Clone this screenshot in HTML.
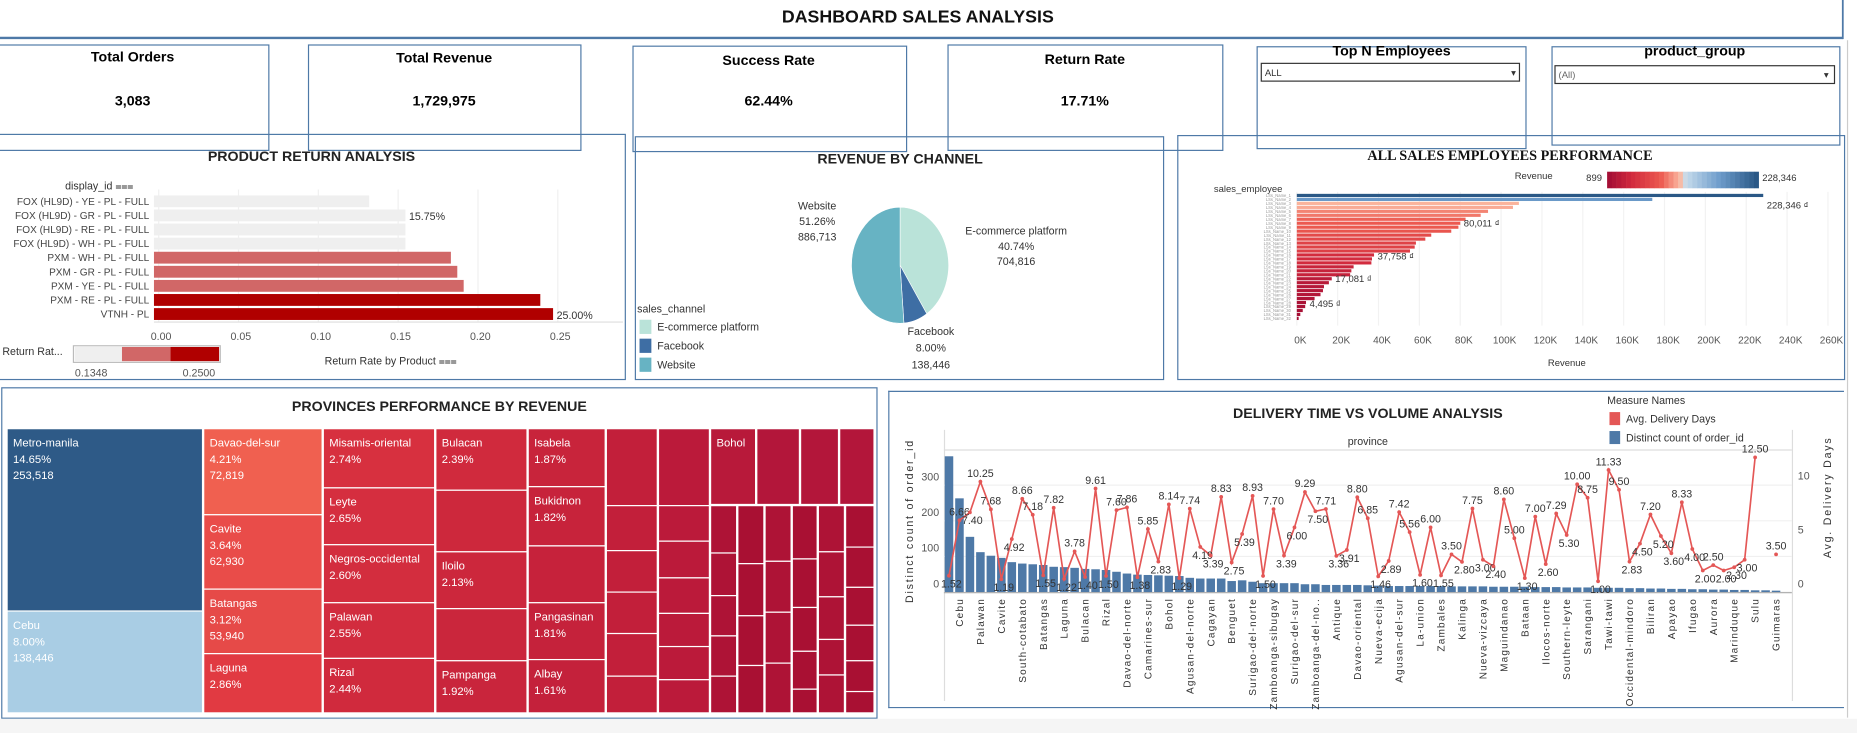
<!DOCTYPE html>
<html><head><meta charset="utf-8"><title>Dashboard Sales Analysis</title>
<style>
html,body{margin:0;padding:0;background:#fff;width:1857px;height:733px;overflow:hidden}
svg{display:block;font-family:"Liberation Sans",sans-serif}
</style></head>
<body>
<svg id="dash" width="1857" height="733" viewBox="0 0 1568 619" preserveAspectRatio="none" xmlns="http://www.w3.org/2000/svg">
  <rect x="0" y="0" width="1568" height="619" fill="#fff"/>
  <g>
    <line x1="0" y1="32" x2="1556" y2="32" stroke="#4e79a7" stroke-width="2"/>
    <line x1="1556" y1="0" x2="1556" y2="33" stroke="#4e79a7" stroke-width="1.5"/>
    <text x="775" y="19" text-anchor="middle" font-size="15" font-weight="bold" fill="#111">DASHBOARD SALES ANALYSIS</text>
  </g>
  <line x1="1560" y1="34" x2="1560" y2="606" stroke="#ccc" stroke-width="1"/>
  <g>
    <rect x="-1" y="38" width="228" height="89" fill="none" stroke="#4e79a7"/>
    <text x="112" y="52" text-anchor="middle" font-size="12" font-weight="bold">Total Orders</text>
    <text x="112" y="89" text-anchor="middle" font-size="12" font-weight="bold">3,083</text>
  </g>
  <g>
    <rect x="260.5" y="38" width="230" height="89" fill="none" stroke="#4e79a7"/>
    <text x="375" y="53" text-anchor="middle" font-size="12" font-weight="bold">Total Revenue</text>
    <text x="375" y="89" text-anchor="middle" font-size="12" font-weight="bold">1,729,975</text>
  </g>
  <g>
    <rect x="534.5" y="39" width="231" height="89" fill="none" stroke="#4e79a7"/>
    <text x="649" y="55" text-anchor="middle" font-size="12" font-weight="bold">Success Rate</text>
    <text x="649" y="89" text-anchor="middle" font-size="12" font-weight="bold">62.44%</text>
  </g>
  <g>
    <rect x="800.5" y="38" width="232" height="89" fill="none" stroke="#4e79a7"/>
    <text x="916" y="54" text-anchor="middle" font-size="12" font-weight="bold">Return Rate</text>
    <text x="916" y="89" text-anchor="middle" font-size="12" font-weight="bold">17.71%</text>
  </g>
  <g>
    <rect x="1061.5" y="39.5" width="227" height="86" fill="none" stroke="#4e79a7"/>
    <text x="1175" y="47" text-anchor="middle" font-size="12" font-weight="bold">Top N Employees</text>
    <g>
      <rect x="1065" y="53.5" width="218" height="15" fill="#fff" stroke="#333"/>
      <text x="1068" y="64" font-size="8" fill="#333">ALL</text>
      <text x="1276" y="64" font-size="8" fill="#333">▾</text>
    </g>
  </g>
  <g>
    <rect x="1310.5" y="39.5" width="243" height="83" fill="none" stroke="#4e79a7"/>
    <text x="1431" y="47" text-anchor="middle" font-size="12" font-weight="bold">product_group</text>
    <g>
      <rect x="1313" y="55.5" width="236" height="15" fill="#fff" stroke="#333"/>
      <text x="1316" y="66" font-size="8" fill="#666">(All)</text>
      <text x="1540" y="66" font-size="8" fill="#333">▾</text>
    </g>
  </g>
  <rect x="-1" y="113.5" width="529" height="207" fill="none" stroke="#4e79a7"/>
  <rect x="536.5" y="115.5" width="446" height="205" fill="none" stroke="#4e79a7"/>
  <rect x="994.5" y="114.5" width="563" height="206" fill="none" stroke="#4e79a7"/>
  <rect x="1.5" y="327.5" width="739" height="279" fill="none" stroke="#4e79a7"/>
  <line x1="750" y1="330.5" x2="1557" y2="330.5" stroke="#4e79a7"/>
  <line x1="750" y1="597.5" x2="1557" y2="597.5" stroke="#4e79a7"/>
  <line x1="750.5" y1="330" x2="750.5" y2="598" stroke="#4e79a7"/>
  <text x="263" y="136" text-anchor="middle" font-size="12" font-weight="bold" fill="#222">PRODUCT RETURN ANALYSIS</text>
  <text x="760" y="138" text-anchor="middle" font-size="12" font-weight="bold" fill="#222">REVENUE BY CHANNEL</text>
  <text x="1275" y="135" text-anchor="middle" font-size="12" font-weight="bold" fill="#111" font-family="Liberation Serif, serif">ALL SALES EMPLOYEES PERFORMANCE</text>
  <text x="371" y="347" text-anchor="middle" font-size="12" font-weight="bold" fill="#222">PROVINCES PERFORMANCE BY REVENUE</text>
  <text x="1155" y="353" text-anchor="middle" font-size="12" font-weight="bold" fill="#222">DELIVERY TIME VS VOLUME ANALYSIS</text>
  <g id="g-ret"></g><g id="g-pie"></g><g id="g-emp"></g><g id="g-tree"></g><g id="g-del"></g>
  <rect x="0" y="607" width="1568" height="12" fill="#f5f5f5"/>
</svg>
<script>
const NS="http://www.w3.org/2000/svg";
const productIds=["FOX (HL9D) - YE - PL - FULL","FOX (HL9D) - GR - PL - FULL","FOX (HL9D) - RE - PL - FULL","FOX (HL9D) - WH - PL - FULL","PXM - WH - PL - FULL","PXM - GR - PL - FULL","PXM - YE - PL - FULL","PXM - RE - PL - FULL","VTNH - PL"];
const returnRates=[0.1348,0.1575,0.1575,0.1575,0.186,0.19,0.194,0.242,0.25];
const returnTicks=[0,0.05,0.10,0.15,0.20,0.25];
const channelNames=["E-commerce platform","Facebook","Website"];
const channelShares=[40.74,8.00,51.26];
const channelRevenue=["704,816","138,446","886,713"];
const empRevenue=[228.3,174,108.7,105.8,93.6,90,82.6,80.0,79.1,75.6,65.8,62.9,58.3,57.7,55.4,37.8,36.8,36.5,27.8,26.7,26.1,17.1,15.7,13.3,12.8,11.6,8.7,4.5,4.1,2.9,1.7,0.9];
const empTicks=[0,20,40,60,80,100,120,140,160,180,200,220,240,260];
const provLabels=["Cebu","Palawan","Cavite","South-cotabato","Batangas","Laguna","Bulacan","Rizal","Davao-del-norte","Camarines-sur","Bohol","Agusan-del-norte","Cagayan","Benguet","Surigao-del-norte","Zamboanga-sibugay","Surigao-del-sur","Zamboanga-del-no..","Antique","Davao-oriental","Nueva-ecija","Agusan-del-sur","La-union","Zambales","Kalinga","Nueva-vizcaya","Maguindanao","Bataan","Ilocos-norte","Southern-leyte","Sarangani","Tawi-tawi","Occidental-mindoro","Biliran","Apayao","Ifugao","Aurora","Marinduque","Sulu","Guimaras"];
const orderCounts=[381,263,155,112,102,96,84,80,78,76,71,70,68,65,64,62,57,52,49,48,47,46,45,40,38,38,38,31,33,29,25,25,25,25,22,22,20,20,20,20,19,18,17,17,17,17,17,17,16,16,16,16,15,15,15,15,14,14,14,13,13,13,12,12,12,11,11,10,10,9,9,8,8,7,7,6,6,5,5,4];
const avgDays=[1.52,6.66,7.4,10.25,7.68,1.19,4.92,8.66,7.18,1.55,7.82,1.22,3.78,1.4,9.61,1.5,7.60,7.86,1.38,5.85,2.83,8.14,1.29,7.74,4.19,3.39,8.83,2.75,5.39,8.93,1.50,7.7,3.39,6.00,9.29,7.50,7.71,3.36,3.91,8.80,6.85,1.46,2.89,7.42,5.56,1.6,6.00,1.55,3.50,2.8,7.75,3.00,2.4,8.60,5.00,1.30,7.00,2.6,7.29,5.30,10.00,8.75,1.00,11.33,9.50,2.83,4.50,7.20,5.20,3.6,8.33,4.00,2.00,2.50,2.0,2.3,3.00,12.50,null,3.50];
const countTicks=[0,100,200,300];
const dayTicks=[0,5,10];

function mk(tag,attrs,parent,txt){const e=document.createElementNS(NS,tag);for(const k in attrs)e.setAttribute(k,attrs[k]);if(txt!==undefined)e.textContent=txt;parent.appendChild(e);return e;}

(function(){
  const g=document.getElementById('g-ret');
  const x=v=>130+v*1348, rowY=i=>170+i*11.9;
  mk('text',{x:55,y:160,'font-size':9,fill:'#333'},g,'display_id ⩶');
  returnTicks.forEach(t=>{
    mk('line',{x1:x(t)+4,y1:160,x2:x(t)+4,y2:272,stroke:'#f0f0f0'},g);
    const l=mk('text',{x:x(t)+6,y:287,'font-size':9,fill:'#555','text-anchor':'middle'},g,t.toFixed(2));
    
    
  });
  productIds.forEach((p,i)=>{
    const v=returnRates[i];
    const col=v<0.16?'#efefef':(v<0.2?'#d16767':'#b00000');
    const b=mk('rect',{x:130,y:rowY(i)-5,width:x(v)-130,height:10,fill:col},g);
    
    
    const t=mk('text',{x:126,y:rowY(i)+3,'font-size':8.5,fill:'#444','text-anchor':'end'},g,p);
    
    
  });
  mk('text',{x:x(returnRates[1])+3,y:rowY(1)+4,'font-size':9,fill:'#333'},g,(returnRates[1]*100).toFixed(2)+'%');
  mk('text',{x:x(returnRates[8])+3,y:rowY(8)+4,'font-size':9,fill:'#333'},g,(returnRates[8]*100).toFixed(2)+'%');
  mk('line',{x1:130,y1:272,x2:526,y2:272,stroke:'#ddd'},g);
  mk('text',{x:2,y:300,'font-size':9,fill:'#333'},g,'Return Rat...');
  mk('rect',{x:62,y:292,width:124,height:14,fill:'#fff',stroke:'#bbb'},g);
  mk('rect',{x:63,y:293,width:40,height:12,fill:'#efefef'},g);
  mk('rect',{x:103,y:293,width:41,height:12,fill:'#d16767'},g);
  mk('rect',{x:144,y:293,width:41,height:12,fill:'#b00000'},g);
  mk('text',{x:77,y:318,'font-size':9,fill:'#555','text-anchor':'middle'},g,'0.1348');
  mk('text',{x:168,y:318,'font-size':9,fill:'#555','text-anchor':'middle'},g,'0.2500');
  mk('text',{x:330,y:308,'font-size':9,fill:'#333','text-anchor':'middle'},g,'Return Rate by Product ⩶');
})();

(function(){
  const g=document.getElementById('g-pie');
  const cx=760,cy=224,rx=41,ry=49, cols=['#bae3d9','#3e6ea4','#67b3c3'];
  const pt=a=>[cx+rx*Math.sin(a),cy-ry*Math.cos(a)];
  const tot=channelShares.reduce((a,b)=>a+b,0);
  let a0=0;
  channelShares.forEach((s,i)=>{
    const a1=a0+s/tot*2*Math.PI;const p0=pt(a0),p1=pt(a1);
    const d=`M${cx},${cy} L${p0[0]},${p0[1]} A${rx},${ry} 0 ${a1-a0>Math.PI?1:0} 1 ${p1[0]},${p1[1]} Z`;
    const s1=mk('path',{d:d,fill:cols[i],stroke:'#fff','stroke-width':0.5},g);
    
    
    a0=a1;
  });
  const lab=[[858,[198,211,224]],[786,[283,297,311]],[690,[177,190,203]]];
  channelNames.forEach((n,i)=>{
    const L=lab[i];
    mk('text',{x:L[0],y:L[1][0],'font-size':9,fill:'#333','text-anchor':'middle'},g,n);
    mk('text',{x:L[0],y:L[1][1],'font-size':9,fill:'#333','text-anchor':'middle'},g,channelShares[i].toFixed(2)+'%');
    mk('text',{x:L[0],y:L[1][2],'font-size':9,fill:'#333','text-anchor':'middle'},g,channelRevenue[i]);
  });
  mk('text',{x:538,y:264,'font-size':9,fill:'#333'},g,'sales_channel');
  channelNames.forEach((n,i)=>{
    const y=270+i*16;
    const sw=mk('rect',{x:540,y:y,width:10,height:12,fill:cols[i]},g);
    
    
    mk('text',{x:555,y:y+9,'font-size':9,fill:'#333'},g,n);
  });
})();

function empColor(v){
  const stops=[[0,[165,15,53]],[0.15,[209,41,61]],[0.35,[236,90,80]],[0.48,[251,184,160]],[0.52,[198,220,236]],[0.75,[109,156,203]],[1,[42,88,134]]];
  const t=Math.max(0,Math.min(1,(v-0.9)/(228.3-0.9)));
  for(let i=1;i<stops.length;i++){if(t<=stops[i][0]){const a=stops[i-1],b=stops[i],f=(t-a[0])/(b[0]-a[0]);return 'rgb('+a[1].map((c,k)=>Math.round(c+(b[1][k]-c)*f)).join(',')+')';}}
  return 'rgb(42,88,134)';
}
(function(){
  const g=document.getElementById('g-emp');
  const x=v=>1095+v*1.725, rowY=i=>165+i*3.35;
  mk('text',{x:1295,y:151,'font-size':8,fill:'#333','text-anchor':'middle'},g,'Revenue');
  mk('text',{x:1346,y:153,'font-size':8,fill:'#333','text-anchor':'middle'},g,'899');
  for(let k=0;k<32;k++){mk('rect',{x:1357+k*4,y:145,width:4.2,height:14,fill:empColor(0.9+k/31*227.4)},g);}
  mk('text',{x:1488,y:153,'font-size':8,fill:'#333'},g,'228,346');
  mk('text',{x:1025,y:162,'font-size':8,fill:'#333'},g,'sales_employee');
  empTicks.forEach(t=>{
    mk('line',{x1:x(t),y1:162,x2:x(t),y2:275,stroke:'#f2f2f2'},g);
    const l=mk('text',{x:x(t)+3,y:290,'font-size':8.5,fill:'#555','text-anchor':'middle'},g,t+'K');
    
    
  });
  empRevenue.forEach((v,i)=>{
    const b=mk('rect',{x:1095,y:rowY(i)-1.3,width:Math.max(1,x(v)-1095),height:2.7,fill:empColor(v)},g);
    
    
    mk('text',{x:1090,y:rowY(i)+1.5,'font-size':3.5,fill:'#999','text-anchor':'end'},g,'LSs_Name_'+(i+1));
  });
  [[0,'228,346 ₫',8],[7,'80,011 ₫',0],[15,'37,758 ₫',1],[21,'17,081 ₫',0],[27,'4,495 ₫',1]].forEach(d=>{
    mk('text',{x:x(empRevenue[d[0]])+3,y:rowY(d[0])+3+d[2],'font-size':8,fill:'#333'},g,d[1]);
  });
  mk('text',{x:1323,y:309,'font-size':8,fill:'#333','text-anchor':'middle'},g,'Revenue');
})();

(function(){
  const g=document.getElementById('g-tree');
  const cells=[
    [6,362,165,154,'#2e5a87','Metro-manila',['14.65%','253,518']],
    [6,516,165,86,'#a9cde4','Cebu',['8.00%','138,446']],
    [172,362,100,72.7,'#f06050','Davao-del-sur',['4.21%','72,819']],
    [172,434.7,100,62.8,'#e94c49','Cavite',['3.64%','62,930']],
    [172,497.5,100,54.5,'#e64a48','Batangas',['3.12%','53,940']],
    [172,552,100,50,'#e13a42','Laguna',['2.86%']],
    [273,362,94,50,'#d7303f','Misamis-oriental',['2.74%']],
    [273,412,94,48,'#d52e3f','Leyte',['2.65%']],
    [273,460,94,49,'#d32d3e','Negros-occidental',['2.60%']],
    [273,509,94,47,'#d22c3e','Palawan',['2.55%']],
    [273,556,94,46,'#d02a3d','Rizal',['2.44%']],
    [368,362,77,52,'#d02a3d','Bulacan',['2.39%']],
    [368,414,77,52,'#cd283c',''],
    [368,466,77,48,'#cc273c','Iloilo',['2.13%']],
    [368,514,77,44,'#ca263c',''],
    [368,558,77,44,'#c9253c','Pampanga',['1.92%']],
    [446,362,65,49,'#c8243b','Isabela',['1.87%']],
    [446,411,65,50,'#c7233b','Bukidnon',['1.82%']],
    [446,461,65,48,'#c6223b',''],
    [446,509,65,48,'#c5223b','Pangasinan',['1.81%']],
    [446,557,65,45,'#c4213b','Albay',['1.61%']],
    [600,362,38,64,'#b8193a','Bohol',[]]
  ];
  const colA=[362,427,465,500,535,571,602], colB=[362,427,457,488,518,546,574,602];
  for(let i=0;i<colA.length-1;i++)cells.push([512,colA[i],43,colA[i+1]-colA[i],'#c21f3a','']);
  for(let i=0;i<colB.length-1;i++)cells.push([556,colB[i],43,colB[i+1]-colB[i],'#bb1a3a','']);
  [[639,36],[676,32],[709,29]].forEach(c=>cells.push([c[0],362,c[1],64,'#b3163a','']));
  const smallCols=[[600,22,[427,467,503,537,571,602]],[623,22,[427,476,520,562,602]],[646,22,[427,474,517,560,602]],[669,21,[427,472,513,550,582,602]],[691,22,[427,466,504,540,570,602]],[714,24,[427,462,496,528,558,584,602]]];
  smallCols.forEach((c,ci)=>{for(let i=0;i<c[2].length-1;i++)cells.push([c[0],c[2][i],c[1],c[2][i+1]-c[2][i],ci%2?'#a91033':'#ae1336','']);});
  cells.forEach(c=>{
    const r=mk('rect',{x:c[0],y:c[1],width:c[2],height:c[3],fill:c[4],stroke:'#fff','stroke-width':1},g);
    
    
    if(c[5]){
      mk('text',{x:c[0]+5,y:c[1]+15,'font-size':9.5,fill:'#fff'},g,c[5]);
      (c[6]||[]).forEach((t,k)=>mk('text',{x:c[0]+5,y:c[1]+29+k*13.5,'font-size':9.5,fill:'#fff'},g,t));
    }
  });
})();

(function(){
  const g=document.getElementById('g-del');
  const xi=i=>801.3+i*8.84, yc=v=>500-v*0.301, yd=v=>500-v*9.1;
  mk('text',{x:1357,y:341,'font-size':9,fill:'#333'},g,'Measure Names');
  const l1=mk('rect',{x:1359,y:348,width:9,height:11,fill:'#e45756'},g);
  
  
  mk('text',{x:1373,y:357,'font-size':9,fill:'#333'},g,'Avg. Delivery Days');
  const l2=mk('rect',{x:1359,y:364,width:9,height:11,fill:'#4e79a7'},g);
  
  
  mk('text',{x:1373,y:373,'font-size':9,fill:'#333'},g,'Distinct count of order_id');
  mk('text',{x:1155,y:376,'font-size':9,fill:'#333','text-anchor':'middle'},g,'province');
  mk('line',{x1:797,y1:380,x2:1513,y2:380,stroke:'#ddd'},g);
  mk('line',{x1:797.5,y1:363,x2:797.5,y2:592,stroke:'#ddd'},g);
  mk('line',{x1:1513.5,y1:363,x2:1513.5,y2:592,stroke:'#ddd'},g);
  countTicks.forEach(t=>{
    mk('line',{x1:797,y1:yc(t),x2:1513,y2:yc(t),stroke:'#f0f0f0'},g);
    const l=mk('text',{x:793,y:yc(t)-4,'font-size':9,fill:'#555','text-anchor':'end'},g,String(t));
    
    
  });
  dayTicks.forEach(t=>{
    const l=mk('text',{x:1518,y:yd(t)-4,'font-size':9,fill:'#555'},g,String(t));
    
    
  });
  mk('text',{x:0,y:0,'font-size':9,fill:'#333','text-anchor':'middle','letter-spacing':1.5,transform:'translate(771,440) rotate(-90)'},g,'Distinct count of order_id');
  mk('text',{x:0,y:0,'font-size':9,fill:'#333','text-anchor':'middle','letter-spacing':1.5,transform:'translate(1546,420) rotate(-90)'},g,'Avg. Delivery Days');
  orderCounts.forEach((v,i)=>{
    const b=mk('rect',{x:xi(i)-3.6,y:yc(v),width:7.2,height:500-yc(v),fill:'#4e79a7'},g);
    
    
  });
  mk('line',{x1:797,y1:500.5,x2:1513,y2:500.5,stroke:'#aaa'},g);
  let d='',pen=false;
  avgDays.forEach((v,i)=>{if(v===null){pen=false;return;}d+=(pen?'L':'M')+xi(i)+','+yd(v)+' ';pen=true;});
  const ln=mk('path',{d:d,fill:'none',stroke:'#e45756','stroke-width':1.4},g);
  
  
  avgDays.forEach((v,i)=>{
    if(v===null)return;
    const p=mk('circle',{cx:xi(i),cy:yd(v),r:1.6,fill:'#e45756'},g);
    
    
    const prev=avgDays[i-1]==null?v:avgDays[i-1], next=avgDays[i+1]==null?v:avgDays[i+1];
    const above=v>=(prev+next)/2;
    mk('text',{x:xi(i)+(above?0:2),y:above?yd(v)-4:yd(v)+10,'font-size':9,fill:'#333','text-anchor':'middle'},g,v.toFixed(2));
  });
  provLabels.forEach((n,k)=>{
    const i=2*k+1;
    const t=mk('text',{x:0,y:0,'font-size':8.5,fill:'#333','text-anchor':'end','letter-spacing':1,transform:`translate(${xi(i)+3},${505}) rotate(-90)`},g,n);
    
    
  });
})();
</script>
</body></html>
